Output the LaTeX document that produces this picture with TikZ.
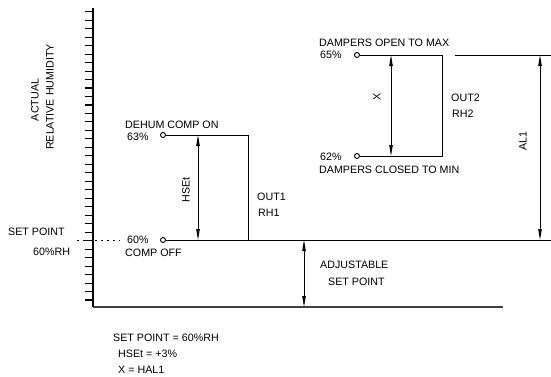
\documentclass[tikz,border=0pt]{standalone}
\usepackage{fontspec}
\setmainfont{Liberation Sans}
\usetikzlibrary{arrows.meta}
\begin{document}
\begin{tikzpicture}[x=1pt,y=-1pt,
  lbl/.style={inner sep=0pt,anchor=west,font=\fontsize{10.7}{12}\selectfont},
  rlbl/.style={inner sep=0pt,rotate=90,font=\fontsize{10.7}{12}\selectfont},
  ln/.style={line width=0.9pt},
  axis/.style={line width=1.3pt},
  pt/.style={circle,draw,line width=0.9pt,inner sep=0pt,minimum size=5pt,fill=white},
  dim/.style={line width=0.9pt,{Triangle[length=11pt,width=3.4pt]}-{Triangle[length=11pt,width=3.4pt]}}]
\useasboundingbox (0,0) rectangle (551,376);
% axis
\coordinate (atop) at (93,8);
\coordinate (aorg) at (93,307);
\coordinate (aend) at (503,307);
\draw[axis] (atop) -- (aorg);
\draw[axis,black!75] (aorg) -- (aend);
\foreach \k in {0,...,34}{
  \draw[line width=1.1pt] (84.5,{11.7+8.48*\k}) -- (93,{11.7+8.48*\k});
}
% left labels
\node[rlbl] (act) at (35,100) {ACTUAL};
\node[rlbl] (rhum) at (50,97) {RELATIVE HUMIDITY};
\node[lbl] (setpt) at (8,232) {SET POINT};
\node[lbl] (sprh) at (33,252) {60\%RH};
\coordinate (dotl) at (77,240);
\coordinate (dotr) at (120,240);
\draw[line width=0.9pt,dash pattern=on 2pt off 4pt] (dotl) -- (dotr);
% dehum
\node[lbl] (dehum) at (125,125) {DEHUM COMP ON};
\node[lbl] (p63) at (127,137) {63\%};
\node[lbl] (p60) at (127,240) {60\%};
\node[lbl] (compoff) at (125,253) {COMP OFF};
\coordinate (o1t) at (248,135);
\coordinate (o1b) at (248,240);
\coordinate (spr) at (551,240);
\node[pt] (c63) at (163,135) {};
\node[pt] (c60) at (163,240) {};
\draw[ln] (c63) -- (o1t) -- (o1b);
\draw[ln] (c60) -- (spr);
\coordinate (ht) at (198,135);
\coordinate (hb) at (198,240);
\draw[dim] (ht) -- (hb);
\node[rlbl] (hset) at (186,190) {HSEt};
\node[lbl] (out1) at (257,197) {OUT1};
\node[lbl] (rh1) at (258,213) {RH1};
% dampers
\node[lbl] (dopen) at (319,43) {DAMPERS OPEN TO MAX};
\node[lbl] (p65) at (320,55) {65\%};
\node[lbl] (p62) at (320,157) {62\%};
\node[lbl] (dclose) at (319,170) {DAMPERS CLOSED TO MIN};
\coordinate (o2t) at (442,55);
\coordinate (o2b) at (442,156);
\node[pt] (c65) at (357,55) {};
\node[pt] (c62) at (357,156) {};
\draw[ln] (c65) -- (o2t) -- (o2b) -- (c62);
\coordinate (xt) at (391,55);
\coordinate (xb) at (391,156);
\draw[dim] (xt) -- (xb);
\node[rlbl] (xl) at (377,97) {X};
\node[lbl] (out2) at (451,98) {OUT2};
\node[lbl] (rh2) at (452,114) {RH2};
% AL1
\coordinate (al0) at (455,55);
\coordinate (al1) at (551,55);
\draw[ln] (al0) -- (al1);
\coordinate (at) at (540,55);
\coordinate (ab) at (540,240);
\draw[dim] (at) -- (ab);
\node[rlbl] (all) at (523,141) {AL1};
% adjustable
\coordinate (jt) at (304,240);
\coordinate (jb) at (304,307);
\draw[dim] (jt) -- (jb);
\node[lbl] (adj) at (320,265) {ADJUSTABLE};
\node[lbl] (adjsp) at (328,282) {SET POINT};
% bottom notes
\node[lbl] (n1) at (113,338) {SET POINT = 60\%RH};
\node[lbl] (n2) at (118,354) {HSEt = +3\%};
\node[lbl] (n3) at (118,370) {X = HAL1};
\end{tikzpicture}
\end{document}
